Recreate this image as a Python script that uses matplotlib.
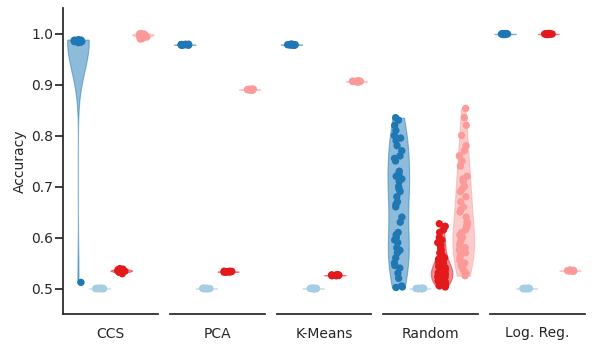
import numpy as np
import pandas as pd
import matplotlib
matplotlib.use("Agg")
import matplotlib.pyplot as plt
import seaborn as sns

methods = ["CCS", "PCA", "K-Means", "Random", "Log. Reg."]
groups = ["Group 1", "Group 2", "Group 3", "Group 4"]
colors = ["#1f78b4", "#a6cee3", "#e31a1c", "#fb9a99"]

const_half = [0.4995, 0.5, 0.5, 0.5005, 0.5, 0.4998, 0.5002, 0.5, 0.5, 0.5001, 0.4999, 0.5, 0.5, 0.5003, 0.4997]

ccs_g1 = [0.982, 0.983, 0.984, 0.985, 0.985, 0.986, 0.986, 0.987, 0.984, 0.985,
          0.983, 0.986, 0.988, 0.985, 0.984, 0.987, 0.986, 0.985, 0.984, 0.512]
ccs_g2 = const_half
ccs_g3 = [0.529, 0.531, 0.533, 0.534, 0.535, 0.536, 0.537, 0.538, 0.535, 0.534,
          0.536, 0.532, 0.537, 0.539, 0.533, 0.535]
ccs_g4 = [0.990, 0.993, 0.995, 0.997, 0.998, 0.999, 1.0, 0.996, 0.994, 0.998,
          0.999, 0.997, 0.992, 0.989, 0.998, 0.996]

pca_g1 = [0.977, 0.978, 0.978, 0.979, 0.978, 0.977, 0.979, 0.978, 0.978, 0.9775, 0.9785, 0.978]
pca_g2 = const_half
pca_g3 = [0.532, 0.533, 0.533, 0.534, 0.533, 0.532, 0.534, 0.533, 0.5325, 0.5335, 0.533, 0.533]
pca_g4 = [0.889, 0.890, 0.890, 0.891, 0.890, 0.889, 0.891, 0.890, 0.8895, 0.8905, 0.890, 0.890]

km_g1 = [0.977, 0.978, 0.978, 0.979, 0.978, 0.977, 0.979, 0.978, 0.978, 0.9775, 0.9785, 0.978]
km_g2 = const_half
km_g3 = [0.525, 0.526, 0.526, 0.527, 0.526, 0.525, 0.527, 0.526, 0.5255, 0.5265, 0.526, 0.526]
km_g4 = [0.905, 0.906, 0.906, 0.907, 0.906, 0.905, 0.907, 0.906, 0.9055, 0.9065, 0.906, 0.906]

rnd_g1 = [0.835, 0.830, 0.820, 0.810, 0.800, 0.795, 0.790, 0.780, 0.770, 0.760,
          0.755, 0.750, 0.730, 0.725, 0.720, 0.715, 0.710, 0.700, 0.695, 0.690,
          0.680, 0.670, 0.665, 0.660, 0.640, 0.630, 0.610, 0.605, 0.600, 0.595,
          0.590, 0.580, 0.575, 0.570, 0.560, 0.550, 0.545, 0.540, 0.530, 0.520,
          0.505, 0.503, 0.502]
rnd_g2 = const_half
rnd_g3 = [0.627, 0.622, 0.615, 0.610, 0.600, 0.595, 0.590, 0.588, 0.585, 0.580,
          0.575, 0.570, 0.565, 0.560, 0.557, 0.555, 0.552, 0.550, 0.548, 0.546,
          0.545, 0.543, 0.540, 0.538, 0.537, 0.535, 0.534, 0.533, 0.531, 0.530,
          0.529, 0.528, 0.527, 0.525, 0.524, 0.523, 0.522, 0.520, 0.519, 0.518,
          0.517, 0.515, 0.513, 0.512, 0.510, 0.508, 0.507, 0.505, 0.503, 0.541]
rnd_g4 = [0.853, 0.835, 0.820, 0.800, 0.780, 0.770, 0.760, 0.750, 0.740, 0.720,
          0.715, 0.710, 0.700, 0.695, 0.690, 0.680, 0.670, 0.660, 0.655, 0.650,
          0.640, 0.630, 0.625, 0.620, 0.615, 0.610, 0.605, 0.600, 0.595, 0.590,
          0.585, 0.580, 0.575, 0.570, 0.565, 0.560, 0.555, 0.550, 0.545, 0.540,
          0.535, 0.530, 0.525]

lr_g1 = [0.998, 0.999, 0.999, 1.0, 0.999, 0.998, 1.0, 0.999, 0.9985, 0.9995, 0.999, 0.999]
lr_g2 = const_half
lr_g3 = [0.998, 0.999, 0.999, 1.0, 0.999, 0.998, 1.0, 0.999, 0.9985, 0.9995, 0.999, 0.999]
lr_g4 = [0.534, 0.535, 0.535, 0.536, 0.535, 0.534, 0.536, 0.535, 0.5345, 0.5355, 0.535, 0.535]

data = {
    "CCS": [ccs_g1, ccs_g2, ccs_g3, ccs_g4],
    "PCA": [pca_g1, pca_g2, pca_g3, pca_g4],
    "K-Means": [km_g1, km_g2, km_g3, km_g4],
    "Random": [rnd_g1, rnd_g2, rnd_g3, rnd_g4],
    "Log. Reg.": [lr_g1, lr_g2, lr_g3, lr_g4],
}

np.random.seed(0)
sns.set_theme(style="ticks")
plt.rcParams["font.family"] = ["DejaVu Sans"]

fig, axes = plt.subplots(1, 5, figsize=(5.98, 3.5), dpi=100, sharey=True)
fig.subplots_adjust(left=63/598, right=585/598, bottom=1-314/350, top=1-8/350, wspace=0.126)

for ax, m in zip(axes, methods):
    rows = []
    for g, vals in zip(groups, data[m]):
        for v in vals:
            rows.append({"method": m, "group": g, "acc": v})
    df = pd.DataFrame(rows)
    sns.violinplot(data=df, x="method", y="acc", hue="group", hue_order=groups,
                   palette=colors, cut=0, inner=None, density_norm="width",
                   width=0.8, saturation=1, linewidth=0.8, ax=ax, legend=False)
    for coll in ax.collections:
        fc = coll.get_facecolor()
        coll.set_edgecolor(fc)
        coll.set_alpha(0.5)
    sns.stripplot(data=df, x="method", y="acc", hue="group", hue_order=groups,
                  palette=colors, dodge=True, jitter=0.15, size=5.3, ax=ax, legend=False,
                  zorder=3)
    ax.set_xticks([])
    ax.set_xlabel(m, fontsize=10, labelpad=9, color="#262626")
    ax.set_ylabel("")
    ax.set_ylim(0.45, 1.05)
    ax.set_xlim(-0.438, 0.438)
    sns.despine(ax=ax, left=(ax is not axes[0]))
    if ax is not axes[0]:
        ax.tick_params(left=False)

axes[0].set_ylabel("Accuracy", fontsize=10, labelpad=3, color="#262626")
axes[0].set_yticks([0.5, 0.6, 0.7, 0.8, 0.9, 1.0])
axes[0].tick_params(axis="y", labelsize=10, length=5.5, pad=1.5)

fig.savefig("out.png", dpi=100)
